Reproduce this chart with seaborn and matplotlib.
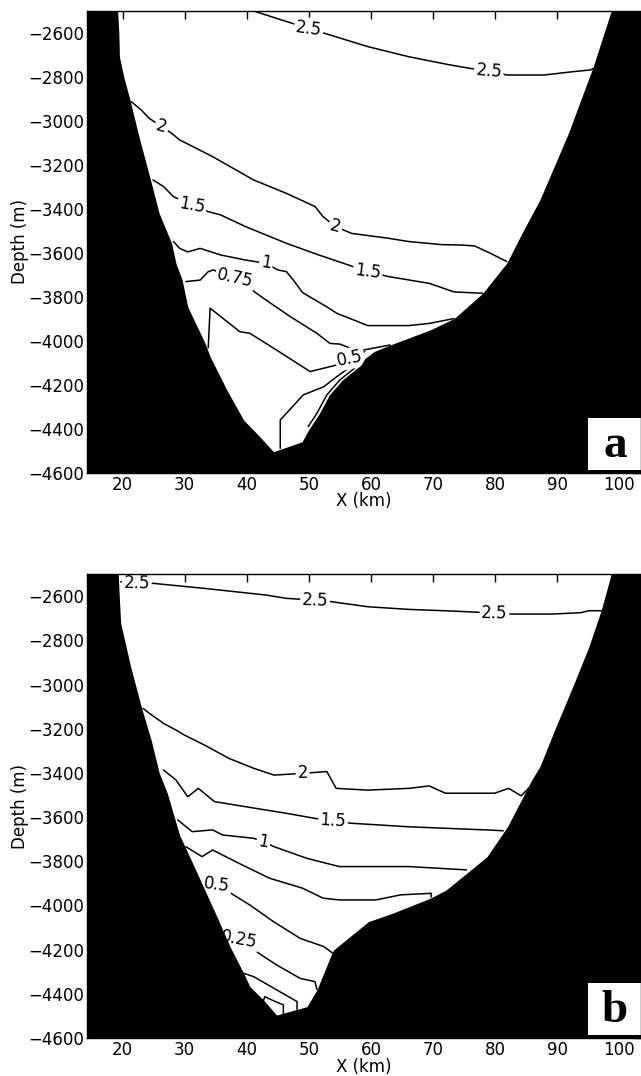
import numpy as np
import matplotlib
matplotlib.use('Agg')
import matplotlib.pyplot as plt
from matplotlib.patches import Rectangle
import seaborn as sns

# ---- panel a : sea floor (x in km, depth in m) ----
floor_a_x = [19.2, 19.4, 19.5, 20.2, 21.2, 22.5, 24.5, 25.9, 27.9, 28.6, 29.6, 30.5,
             33.3, 34.1, 36.8, 39.5, 42.1, 44.3, 48.9, 49.8, 50.3, 51.7, 53.3, 55.4,
             58.4, 59.0, 60.5, 63.1, 69.5, 73.4, 78.0, 81.9, 84.6, 87.2, 91.8, 95.8, 98.7]
floor_a_d = [-2500, -2600, -2708, -2800, -2905, -3056, -3268, -3420, -3556, -3647, -3723, -3845,
             -4011, -4071, -4223, -4359, -4435, -4503, -4458, -4412, -4389, -4329, -4245, -4177,
             -4109, -4080, -4048, -4018, -3950, -3898, -3783, -3645, -3495, -3359, -3056, -2753, -2500]

# panel a contours
a25_x = [41.1, 47.3, 50.0, 52.6, 59.5, 66.1, 72.7, 76.0, 79.0, 81.9, 87.9, 92.5, 95.4, 95.8]
a25_d = [-2500, -2556, -2579, -2602, -2662, -2708, -2745, -2761, -2773, -2791, -2791, -2776, -2768, -2761]
a2_x = [21.4, 23.0, 24.3, 26.3, 27.9, 29.2, 34.5, 41.1, 46.4, 51.0, 52.3, 54.3, 56.9, 62.8,
        66.1, 71.4, 74.7, 76.7, 79.0, 81.9]
a2_d = [-2912, -2950, -2988, -3026, -3056, -3086, -3162, -3268, -3329, -3389, -3435, -3480, -3511, -3533,
        -3548, -3562, -3564, -3568, -3598, -3639]
a15_x = [24.9, 26.6, 28.2, 31.2, 33.8, 35.8, 39.8, 46.4, 51.6, 55.6, 59.5, 62.8, 69.4, 73.4, 78.0]
a15_d = [-3268, -3298, -3344, -3382, -3412, -3427, -3480, -3556, -3609, -3647, -3685, -3707, -3738, -3777, -3783]
a1_x = [28.2, 29.2, 30.5, 32.5, 35.8, 39.8, 43.1, 45.0, 46.4, 47.5, 49.0, 52.9, 54.5, 59.5, 66.1, 69.4, 73.4]
a1_d = [-3548, -3579, -3595, -3579, -3609, -3632, -3647, -3677, -3685, -3723, -3780, -3845, -3874, -3930, -3930, -3920, -3898]
a075_x = [30.2, 32.5, 33.8, 34.6, 38.1, 40.5, 42.7, 47.0, 51.3, 53.4, 55.0, 56.7, 58.8, 63.1]
a075_d = [-3730, -3723, -3685, -3677, -3715, -3761, -3806, -3889, -3965, -4011, -4014, -4033, -4041, -4018]
a05_x = [33.8, 34.1, 38.9, 40.5, 44.8, 50.2, 54.5, 56.6, 59.0]
a05_d = [-4030, -3851, -3958, -3965, -4041, -4139, -4109, -4079, -4048]
a05b_x = [45.4, 45.4, 49.1, 52.4, 54.5, 57.3]
a05b_d = [-4488, -4359, -4245, -4208, -4162, -4105]
a05c_x = [49.9, 51.3, 52.9, 55.0, 58.0]
a05c_d = [-4389, -4329, -4245, -4177, -4109]

# ---- panel b : sea floor ----
floor_b_x = [19.3, 19.5, 19.7, 21.3, 23.0, 24.6, 25.9, 27.2, 29.2, 30.3, 33.0, 35.2, 37.3,
             39.5, 40.5, 42.7, 44.8, 49.7, 51.3, 53.7, 54.0, 59.6, 63.5, 69.5, 72.1, 75.4,
             78.7, 82.0, 85.9, 87.2, 89.8, 92.5, 95.1, 97.1, 98.7]
floor_b_d = [-2500, -2618, -2723, -2919, -3100, -3251, -3400, -3492, -3683, -3749, -3915, -4051, -4186,
             -4307, -4367, -4428, -4496, -4458, -4382, -4217, -4201, -4073, -4035, -3968, -3930, -3855,
             -3779, -3643, -3432, -3372, -3191, -3010, -2829, -2663, -2500]

# panel b contours
b25_x = [19.7, 22.3, 24.9, 33.2, 43.1, 46.4, 51.0, 53.6, 59.5, 66.1, 72.7, 77.3, 79.9, 82.6,
         89.2, 93.8, 95.1, 97.1]
b25_d = [-2535, -2542, -2542, -2565, -2595, -2610, -2618, -2625, -2648, -2660, -2667, -2673, -2678, -2681,
         -2681, -2675, -2666, -2666]
b2_x = [23.3, 24.3, 26.6, 28.6, 29.9, 33.2, 37.1, 41.1, 44.4, 49.0, 52.9, 54.4, 59.5, 66.1,
        69.4, 72.0, 79.9, 82.2, 84.2, 85.9]
b2_d = [-3108, -3130, -3176, -3206, -3228, -3274, -3334, -3379, -3410, -3402, -3394, -3470, -3478, -3470,
        -3459, -3492, -3492, -3470, -3504, -3455]
b15_x = [26.6, 28.6, 30.5, 32.2, 34.8, 39.8, 46.4, 51.0, 53.9, 56.9, 66.1, 79.3, 81.3]
b15_d = [-3387, -3432, -3508, -3470, -3530, -3553, -3583, -3606, -3618, -3628, -3644, -3659, -3662]
b1_x = [28.9, 31.2, 34.5, 36.1, 41.1, 42.7, 44.4, 49.6, 54.9, 66.1, 75.4]
b1_d = [-3613, -3666, -3658, -3681, -3696, -3711, -3734, -3786, -3824, -3824, -3839]
b075_x = [30.2, 32.8, 34.5, 39.8, 43.7, 49.0, 52.3, 54.9, 60.8, 64.8, 69.7, 69.7]
b075_d = [-3734, -3779, -3749, -3824, -3877, -3922, -3967, -3975, -3975, -3952, -3945, -3962]
b05_x = [33.0, 35.2, 37.0, 40.5, 44.3, 48.6, 52.4, 53.8]
b05_d = [-3905, -3907, -3937, -3998, -4073, -4149, -4186, -4215]
b025_x = [36.0, 38.7, 41.1, 44.8, 48.6, 51.0, 51.3]
b025_d = [-4140, -4156, -4201, -4269, -4330, -4345, -4380]
b01_x = [39.5, 41.1, 48.1, 48.1]
b01_d = [-4307, -4322, -4435, -4470]
b005_x = [42.6, 42.9, 44.6, 45.9, 45.9]
b005_d = [-4440, -4413, -4435, -4450, -4495]

# (x, depth, label x positions, label text)
contours_a = [(a25_x, a25_d, [50.0, 79.0], '2.5'),
              (a2_x, a2_d, [26.3, 54.3], '2'),
              (a15_x, a15_d, [31.2, 59.5], '1.5'),
              (a1_x, a1_d, [43.1], '1'),
              (a075_x, a075_d, [38.1], '0.75'),
              (a05_x, a05_d, [56.6], '0.5'),
              (a05b_x, a05b_d, [], ''),
              (a05c_x, a05c_d, [], '')]
contours_b = [(b25_x, b25_d, [22.3, 51.0, 79.9], '2.5'),
              (b2_x, b2_d, [49.0], '2'),
              (b15_x, b15_d, [53.9], '1.5'),
              (b1_x, b1_d, [42.7], '1'),
              (b075_x, b075_d, [], ''),
              (b05_x, b05_d, [35.2], '0.5'),
              (b025_x, b025_d, [38.7], '0.25'),
              (b01_x, b01_d, [], ''),
              (b005_x, b005_d, [], '')]

x_ticks = list(range(20, 101, 10))
y_ticks = list(range(-4600, -2599, 200))
XLIM = (14.27, 103.5)
YLIM = (-4600, -2500)

sns.set_theme(style='white')
plt.rcParams['font.family'] = ['DejaVu Sans']
plt.rcParams['text.color'] = 'black'
plt.rcParams['axes.labelcolor'] = 'black'


def draw_panel(ax, floor_x, floor_d, contours, tag):
    ax.set_facecolor('white')
    ax.set_xlim(XLIM)
    ax.set_ylim(YLIM)

    # contour lines
    for cx, cd, lxs, txt in contours:
        sns.lineplot(x=cx, y=cd, sort=False, estimator=None, color='black',
                     lw=1.1, ax=ax, zorder=2)

    # inline labels, turned a little along the line
    for cx, cd, lxs, txt in contours:
        for lx in lxs:
            ly = np.interp(lx, cx, cd)
            p0 = ax.transData.transform((lx - 1.0, np.interp(lx - 1.0, cx, cd)))
            p1 = ax.transData.transform((lx + 1.0, np.interp(lx + 1.0, cx, cd)))
            ang = np.degrees(np.arctan2(p1[1] - p0[1], p1[0] - p0[0])) * 0.45
            ax.text(lx, ly, txt, fontsize=12, ha='center', va='center', color='black',
                    rotation=ang, rotation_mode='anchor', zorder=3, clip_on=True,
                    bbox=dict(fc='white', ec='none', pad=1.2))

    # bathymetry in black, drawn over the contours
    fx = [XLIM[0]] + floor_x + [XLIM[1]]
    fd = [YLIM[1]] + floor_d + [YLIM[1]]
    ax.fill_between(fx, fd, YLIM[0] - 100, color='black', lw=0, zorder=4)

    # panel tag
    ax.add_patch(Rectangle((0.905, 0.006), 0.1, 0.112, transform=ax.transAxes,
                           fc='white', ec='none', zorder=5, clip_on=False))
    ax.text(0.953, 0.058, tag, transform=ax.transAxes, ha='center', va='center',
            fontsize=34, fontweight='bold', family='Liberation Serif', color='black',
            zorder=6)

    ax.set_xticks(x_ticks)
    ax.set_yticks(y_ticks)
    ax.tick_params(direction='in', length=6, width=1, top=True, right=True,
                   labelsize=12, pad=2, colors='black', labelcolor='black')
    for s in ax.spines.values():
        s.set_color('black')
        s.set_linewidth(1)
        s.set_zorder(7)
    ax.set_xlabel('X (km)', fontsize=12, color='black')
    ax.set_ylabel('Depth (m)', fontsize=12, color='black')
    ax.xaxis.set_label_coords(0.5, -0.042)
    ax.yaxis.set_label_coords(-0.105, 0.5)


fig = plt.figure(figsize=(6.41, 10.76), dpi=100)
ax_a = fig.add_axes([0.1357, 0.5604, 0.8643, 0.4294])
ax_b = fig.add_axes([0.1357, 0.0353, 0.8643, 0.4312])

draw_panel(ax_a, floor_a_x, floor_a_d, contours_a, 'a')
draw_panel(ax_b, floor_b_x, floor_b_d, contours_b, 'b')

fig.savefig('out.png', dpi=100)
